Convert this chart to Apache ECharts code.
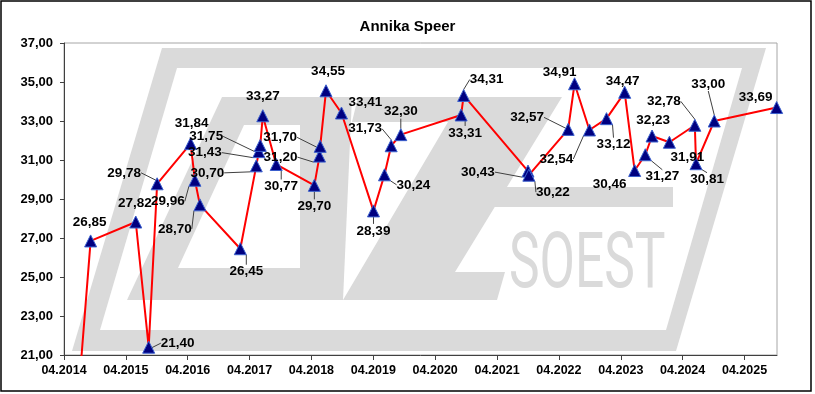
<!DOCTYPE html>
<html><head><meta charset="utf-8">
<script src="https://cdn.jsdelivr.net/npm/echarts@6/dist/echarts.min.js"></script>
<style>html,body{margin:0;padding:0;background:#fff}#c{width:815px;height:394px}</style>
</head><body><div id="c"></div>
<script>
// ---- data ----
const chartTitle = 'Annika Speer';
const dates = ['2014-05-16','2014-09-06','2015-05-29','2015-08-14','2015-10-03','2016-04-18','2016-05-13','2016-06-12',
  '2017-02-07','2017-05-10','2017-05-25','2017-06-03','2017-06-18','2017-09-06','2018-04-18','2018-05-18','2018-05-22',
  '2018-06-26','2018-09-26','2019-04-02','2019-06-06','2019-07-15','2019-09-11','2020-09-02','2020-09-17','2021-10-01',
  '2021-10-06','2022-05-25','2022-07-02','2022-09-29','2023-01-08','2023-04-24','2023-06-22','2023-08-24','2023-10-03',
  '2024-01-14','2024-06-12','2024-06-19','2024-10-05','2025-10-08'];
const values = [14.60,26.85,27.82,21.40,29.78,31.84,29.96,28.70,
  26.45,30.70,31.43,31.75,33.27,30.77,29.70,31.20,31.70,
  34.55,33.41,28.39,30.24,31.73,32.30,33.31,34.31,30.43,
  30.22,32.57,34.91,32.54,33.12,34.47,30.46,31.27,32.23,
  31.91,32.78,30.81,33.00,33.69];
const yMin = 21, yMax = 37, yStep = 2;
const xTickYears = [2014,2015,2016,2017,2018,2019,2020,2021,2022,2023,2024,2025];

// ---- label placement (style) ----
const labelOffsets = [[0,0],[-1,-19],[-1,-19],[29,-4],[-33,-11],[1,-20],[-27,21],[-25,24],
  [6,23],[-49,7],[-54,1],[-54,-9],[0,-19],[5,22],[0,21],[-39,1],[-40,-9],
  [2,-19],[24,-11],[0,20],[29,10],[-26,-17],[0,-23],[4,18],[23,-16],[-50,1],
  [24,17],[-41,-12],[-15,-11],[-33,29],[7,26],[-2,-11],[-25,14],[17,22],[1,-16],
  [18,15],[-31,-24],[11,16],[-6,-37],[-21,-10]];
const leader = [0,0,0,1,1,0,1,1, 1,1,1,1,0,1,1,1,1, 0,0,1,1,1,1,1,1,1, 1,1,0,1,1,0,0,1,0, 0,1,1,1,0];
const hidden = [1];

function monthsFromStart(s){
  const [y,m,d] = s.split('-').map(Number);
  return (y-2014)*12 + (m-4) + (d-1)/30.4;
}
const xMax = 138.3;
const tickVals = xTickYears.map(y => (y-2014)*12);
const fmt = v => v.toFixed(2).replace('.', ',');

const seriesData = dates.map((d,i) => ({
  value: [monthsFromStart(d), values[i]],
  label: { show: hidden[i] ? false : true },
  labelLine: { show: !!leader[i] }
}));

const FONT = 'Liberation Sans, Arial, sans-serif';
const WM = '#dadada';
const wm = [
  {type:'polygon', z:-10, shape:{points:[[162,48],[766,48],[676,351],[72,351]]}, style:{fill:WM}},
  {type:'polygon', z:-9, shape:{points:[[177,68],[742,68],[666,330],[100,330]]}, style:{fill:'#fff'}},
  // A
  {type:'polygon', z:-8, shape:{points:[[222,97],[352,97],[343,300],[127,300]]}, style:{fill:WM}},
  {type:'polygon', z:-7, shape:{points:[[244,125],[300,125],[300,268],[178,268]]}, style:{fill:'#fff'}},
  // Z
  {type:'polygon', z:-8, shape:{points:[[358,97],[562,97],[455,272],[505,272],[497,300],[343,300],[448,122],[352,122]]}, style:{fill:WM}},
  {type:'rect', z:-8, shape:{x:486,y:187,width:187,height:20}, style:{fill:WM}},
  {type:'text', z:-8, x:509, y:267, scaleX:0.66, style:{text:'SOEST', font:'78px Roboto', fill:WM, verticalAlign:'middle', align:'left'}},
  {type:'rect', z:100, shape:{x:1,y:1,width:810,height:390}, style:{fill:'none', stroke:'#000', lineWidth:1.5}}
];

const chart = echarts.init(document.getElementById('c'), null, {renderer:'canvas'});
chart.setOption({
  animation: false,
  backgroundColor: '#fff',
  title: { text: chartTitle, left: 'center', top: 14, textStyle: { fontFamily: FONT, fontSize: 15, fontWeight: 'bold', color: '#000' } },
  graphic: wm,
  grid: { left: 64, top: 43, right: 38, bottom: 39, show: true, borderColor: '#a6a6a6', borderWidth: 1, backgroundColor: 'transparent' },
  xAxis: {
    type: 'value', min: 0, max: xMax, interval: 12,
    axisLine: { lineStyle: { color: '#404040', width: 1 } },
    axisTick: { show: true, inside: false, length: 5, customValues: tickVals, lineStyle: { color: '#404040' } },
    axisLabel: { customValues: tickVals, margin: 9, fontFamily: FONT, fontSize: 12.5, fontWeight: 'bold', color: '#000',
      formatter: v => '04.' + (2014 + Math.round(v/12)) },
    splitLine: { show: false }
  },
  yAxis: {
    type: 'value', min: yMin, max: yMax, interval: yStep,
    axisLine: { show: true, lineStyle: { color: '#404040', width: 1 } },
    axisTick: { show: true, inside: false, length: 4, lineStyle: { color: '#404040' } },
    axisLabel: { margin: 11, fontFamily: FONT, fontSize: 13, fontWeight: 'bold', color: '#000', formatter: v => fmt(v) },
    splitLine: { show: false }
  },
  series: [{
    type: 'line', data: seriesData, clip: true,
    symbol: 'triangle', symbolSize: 12,
    lineStyle: { color: '#ff0000', width: 2 },
    itemStyle: { color: '#000080', borderColor: '#3a5fcd', borderWidth: 1 },
    label: { show: true, position: 'inside', fontFamily: FONT, fontSize: 13.5, fontWeight: 'bold', color: '#000',
      formatter: p => fmt(p.value[1]) },
    labelLine: { show: false, lineStyle: { color: '#404040', width: 1 } },
    labelLayout: p => { const o = labelOffsets[p.dataIndex]; return { dx: o[0], dy: o[1] }; }
  }]
});
</script></body></html>
